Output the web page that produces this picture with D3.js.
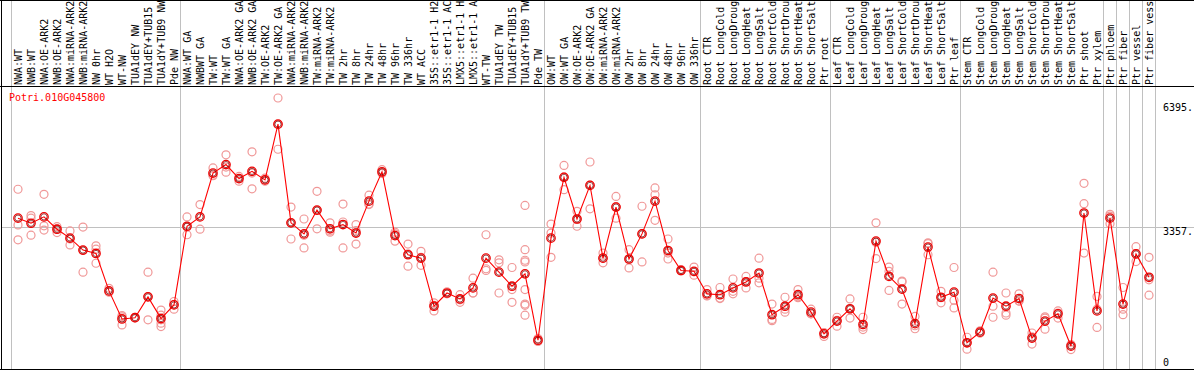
<!doctype html>
<html>
  <head>
    <script src="https://cdn.jsdelivr.net/npm/d3@7/dist/d3.min.js"></script>
    <style>
    body { margin: 0; background: #fff; }
    text { font-family: "DejaVu Sans Mono", monospace; font-size: 10px; }
    .grid { stroke: #c0c0c0; stroke-width: 1; shape-rendering: crispEdges; }
    .frame { stroke: #000; stroke-width: 1; shape-rendering: crispEdges; }
    .rep { fill: none; stroke: #f09898; stroke-width: 1.2; }
    .mean { fill: none; stroke: #f00000; stroke-width: 1.3; }
    .meanIn { fill: none; stroke: #700000; stroke-width: 0.7; }
    </style>
  </head>
  <body>
    <svg id="chart" width="1194" height="370"></svg>
    <script>
      var title = "Potri.010G045800";

      var labels = [
        "NWA:WT", "NWB:WT", "NWA:OE-ARK2", "NWB:OE-ARK2", "NWA:miRNA-ARK2", "NWB:miRNA-ARK2",
        "NW 0hr", "WT H2O", "WT-NW", "TUA1dEY NW", "TUA1dEY+TUB15 NW", "TUA1dY+TUB9 NW", "Pde NW",
        "NWA:WT GA", "NWBWT GA", "TW:WT", "TW:WT GA", "NWA:OE-ARK2 GA", "NWB:OE-ARK2 GA",
        "TW:OE-ARK2", "TW:OE-ARK2 GA", "NWA:miRNA-ARK2 GA", "NWB:miRNA-ARK2 GA", "TW:miRNA-ARK2",
        "TW:miRNA-ARK2 GA", "TW 2hr", "TW 8hr", "TW 24hr", "TW 48hr", "TW 96hr", "TW 336hr",
        "WT ACC", "35S::etr1-1 H2O", "35S::etr1-1 ACC", "LMX5::etr1-1 H2O", "LMX5::etr1-1 ACC",
        "WT-TW", "TUA1dEY TW", "TUA1dEY+TUB15 TW", "TUA1dY+TUB9 TW", "Pde TW",
        "OW:WT", "OW:WT GA", "OW:OE-ARK2", "OW:OE-ARK2 GA", "OW:miRNA-ARK2", "OW:miRNA-ARK2 GA",
        "OW 2hr", "OW 8hr", "OW 24hr", "OW 48hr", "OW 96hr", "OW 336hr",
        "Root CTR", "Root LongCold", "Root LongDrought", "Root LongHeat", "Root LongSalt",
        "Root ShortCold", "Root ShortDrought", "Root ShortHeat", "Root ShortSalt", "Ptr root",
        "Leaf CTR", "Leaf LongCold", "Leaf LongDrought", "Leaf LongHeat", "Leaf LongSalt",
        "Leaf ShortCold", "Leaf ShortDrought", "Leaf ShortHeat", "Leaf ShortSalt", "Ptr leaf",
        "Stem CTR", "Stem LongCold", "Stem LongDrought", "Stem LongHeat", "Stem LongSalt",
        "Stem ShortCold", "Stem ShortDrought", "Stem ShortHeat", "Stem ShortSalt", "Ptr shoot",
        "Ptr xylem", "Ptr phloem", "Ptr fiber", "Ptr vessel", "Ptr fiber vessel"
      ];

      // index of the first sample in each block (vertical separators)
      var groupStarts = [0, 13, 41, 53, 63, 73, 84, 85, 86, 87, 88];

      var means = [
        3570, 3450, 3600, 3310, 3100, 2820, 2740, 1860, 1200, 1230, 1720, 1210, 1530,
        3380, 3600, 4630, 4830, 4500, 4670, 4470, 5780, 3460, 3200, 3760, 3320, 3420, 3220,
        3970, 4660, 3160, 2710, 2630, 1500, 1810, 1670, 1930, 2630, 2300, 1970, 2260, 700,
        3100, 4530, 3550, 4340, 2630, 3830, 2610, 3200, 3970, 2810, 2340, 2320,
        1790, 1770, 1930, 2070, 2280, 1300, 1500, 1770, 1360, 850,
        1150, 1440, 1070, 3030, 2200, 1900, 1090, 2890, 1710, 1830,
        640, 890, 1690, 1500, 1680, 750, 1150, 1320, 560, 3690,
        1390, 3570, 1550, 2730, 2180
      ];

      var reps = [
        [4250, 3410, 3060], [3630, 3570, 3170], [4130, 3390, 3290], [3370, 3230, 3310],
        [3270, 2940, 3080], [3360, 2300, 2810], [2920, 2840, 2510], [1920, 1840, 1830],
        [1280, 1060, 1250], [1230, 1220, 1240], [2300, 1720, 1180], [1410, 1290, 1180, 1100, 1020],
        [1610, 1430, 1540],
        [3600, 3180, 3360], [3890, 3310], [4750, 4580, 4570], [5060, 4650, 4770],
        [4550, 4440, 4500], [5130, 4260, 4630], [4510, 4440, 4470], [6395, 5190, 5770],
        [3830, 3080, 3460], [3550, 2870, 3170], [4200, 3320, 3750], [3460, 3240, 3270],
        [3900, 2870, 3480], [3420, 2960, 3280], [4110, 3890, 3900], [4710, 4620, 4640],
        [3240, 3030, 3200], [2960, 2440, 2730], [2790, 2460, 2650], [1580, 1390, 1520],
        [1840, 1790, 1800], [1770, 1590, 1650], [2160, 1810, 1810], [3180, 2380, 2340],
        [2590, 2520, 1810], [2410, 1890, 1590],
        [3870, 2830, 2580, 2540, 1890, 1550, 1520, 1290], [740, 670, 680],
        [3430, 3220, 2650], [4810, 4240, 4540], [3730, 3380, 3540], [4890, 3790, 4350],
        [2750, 2520, 2630], [4080, 3570, 3840], [2830, 2400, 2600], [3850, 2540, 3200],
        [4280, 4120, 3520], [3080, 2610, 2750], [2360, 2330, 2340], [2420, 2230, 2310],
        [1890, 1740, 1750], [1940, 1690, 1680], [2140, 1790, 1850], [2200, 1930, 2080],
        [2630, 2050, 2160], [1550, 1160, 1190], [1710, 1360, 1430], [1890, 1720, 1700],
        [1430, 1320, 1320], [790, 880, 870],
        [1240, 1030, 1170], [1670, 1220, 1430], [1240, 950, 1010], [3460, 2620, 3000],
        [2420, 1870, 2320], [2090, 1550, 2070], [1260, 970, 1040], [2990, 2710, 2970],
        [1850, 1580, 1700], [2410, 1640, 1460],
        [770, 490, 640], [920, 870, 870], [2300, 1500, 1240], [1810, 1340, 1290],
        [1790, 1620, 1620], [870, 610, 780], [1250, 960, 1220], [1390, 1220, 1340],
        [480, 600, 590], [4390, 3910, 2750],
        [1730, 1000, 1430], [3660, 3440, 3620], [1940, 1300, 1430], [2900, 2550, 2730],
        [2650, 2120, 1760]
      ];

      var ticks = [6395, 3357, 0];

      var W = 1194, H = 370;
      var maxChars = 14;   // the label strip only fits this many glyphs
      var svg = d3.select("#chart");

      var x = d3.scaleBand()
        .domain(d3.range(labels.length))
        .range([11.5, 1155.5]);
      var cx = i => x(i) + x.bandwidth() / 2;

      var y = d3.scaleLinear()
        .domain([0, 6395])
        .range([370, 98]);

      // block separators
      svg.selectAll("line.vsep")
        .data(groupStarts)
        .enter()
        .append("line")
          .attr("class", "grid vsep")
          .attr("x1", d => d < labels.length ? x(d) : x(d - 1) + x.bandwidth())
          .attr("x2", d => d < labels.length ? x(d) : x(d - 1) + x.bandwidth())
          .attr("y1", 0)
          .attr("y2", H);

      // middle reference line
      svg.append("line")
        .attr("class", "grid")
        .attr("x1", 2).attr("x2", W)
        .attr("y1", Math.round(y(ticks[1])) + 0.5)
        .attr("y2", Math.round(y(ticks[1])) + 0.5);

      // frame
      svg.append("line").attr("class", "frame").attr("x1", 0).attr("x2", W).attr("y1", 0.5).attr("y2", 0.5);
      svg.append("line").attr("class", "frame").attr("x1", 0).attr("x2", W).attr("y1", 86.5).attr("y2", 86.5);
      svg.append("line").attr("class", "frame").attr("x1", 0).attr("x2", W).attr("y1", 369.5).attr("y2", 369.5);
      svg.append("line").attr("class", "frame").attr("x1", 1.5).attr("x2", 1.5).attr("y1", 0).attr("y2", H);

      // sample labels, cut to what fits in the strip
      svg.selectAll("text.lab")
        .data(labels)
        .enter()
        .append("text")
          .attr("class", "lab")
          .attr("transform", (d, i) => `translate(${cx(i) + 3.8},85) rotate(-90)`)
          .style("fill", "#000")
          .text(d => d.length > maxChars ? d.slice(0, maxChars) : d);

      // title
      svg.append("text")
        .attr("x", 9)
        .attr("y", 101)
        .style("fill", "#ff0000")
        .text(title);

      // value labels on the right
      svg.selectAll("text.tick")
        .data(ticks)
        .enter()
        .append("text")
          .attr("class", "tick")
          .attr("x", 1163)
          .attr("y", d => Math.min(Math.max(y(d) + 8, 110.5), 366))
          .style("fill", "#000")
          .text(d => d === 0 ? "0" : d + ".");

      // replicate points
      var flat = [];
      reps.forEach((r, i) => r.forEach(v => flat.push({ i: i, v: v })));
      svg.selectAll("circle.rep")
        .data(flat)
        .enter()
        .append("circle")
          .attr("class", "rep")
          .attr("cx", d => cx(d.i))
          .attr("cy", d => y(d.v))
          .attr("r", 4);

      // mean line
      var line = d3.line()
        .x((d, i) => cx(i))
        .y(d => y(d));
      svg.append("path")
        .datum(means)
        .attr("d", line)
        .style("fill", "none")
        .style("stroke", "#ff0000")
        .style("stroke-width", 1.1);

      svg.selectAll("circle.mean")
        .data(means)
        .enter()
        .append("circle")
          .attr("class", "mean")
          .attr("cx", (d, i) => cx(i))
          .attr("cy", d => y(d))
          .attr("r", 4.2);
      svg.selectAll("circle.meanIn")
        .data(means)
        .enter()
        .append("circle")
          .attr("class", "meanIn")
          .attr("cx", (d, i) => cx(i))
          .attr("cy", d => y(d))
          .attr("r", 3.1);
    </script>
  </body>
</html>
